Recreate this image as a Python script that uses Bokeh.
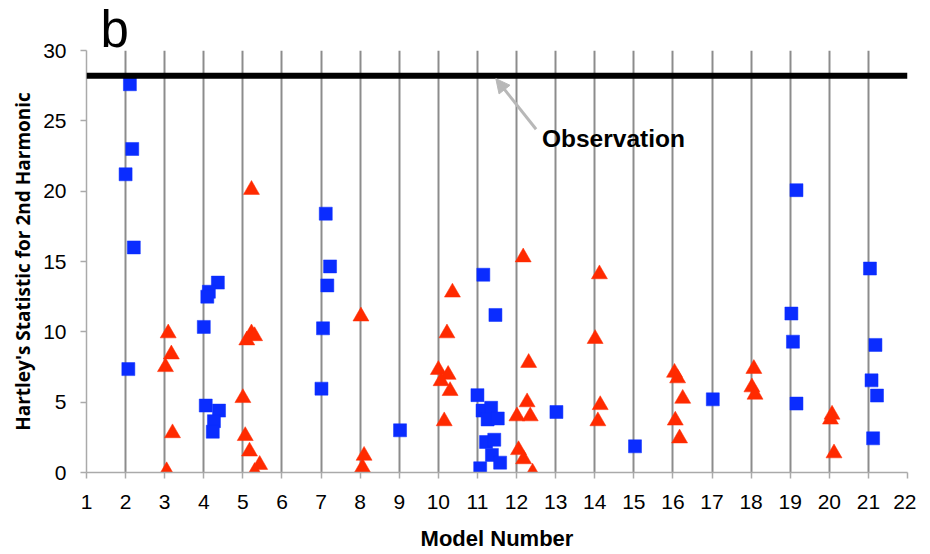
from bokeh.plotting import figure
from bokeh.models import FixedTicker, Label, Arrow, NormalHead, Span, Title
from bokeh.embed import file_html
from bokeh.resources import INLINE

# ---- data ----
model_ticks = list(range(1, 23))
y_ticks = [0, 5, 10, 15, 20, 25, 30]
observation = 28.2

blue_x = [2.11, 2.17, 2.00, 2.21, 2.07,
          4.36, 4.13, 4.09, 4.00, 4.05, 4.39, 4.26, 4.23,
          7.12, 7.23, 7.16, 7.05, 7.01,
          9.02,
          11.15, 11.46, 11.00, 11.13, 11.35, 11.26, 11.52, 11.22, 11.43, 11.37, 11.58, 11.07,
          13.02,
          15.03,
          17.02,
          19.16, 19.03, 19.07, 19.16,
          21.04, 21.18, 21.08, 21.22, 21.12]
blue_y = [27.6, 23.0, 21.2, 16.0, 7.35,
          13.5, 12.85, 12.5, 10.35, 4.76, 4.4, 3.65, 2.9,
          18.4, 14.65, 13.3, 10.25, 5.96,
          3.0,
          14.06, 11.2, 5.5, 4.4, 4.6, 3.77, 3.84, 2.17, 2.33, 1.25, 0.7, 0.3,
          4.3,
          1.86,
          5.2,
          20.07, 11.3, 9.3, 4.9,
          14.5, 9.07, 6.55, 5.47, 2.43]

red_x = [3.09, 3.17, 3.02, 3.20, 3.05,
         5.22, 5.22, 5.30, 5.10, 5.00, 5.06, 5.17, 5.43, 5.30,
         8.02, 8.10, 8.06,
         10.36, 10.22, 10.00, 10.25, 10.07, 10.30, 10.15,
         12.17, 12.31, 12.27, 12.01, 12.35, 12.05, 12.18, 12.41,
         14.12, 14.01, 14.14, 14.08,
         16.04, 16.12, 16.25, 16.06, 16.17,
         18.07, 18.02, 18.10,
         20.07, 20.03, 20.12]
red_y = [9.9, 8.4, 7.5, 2.8, 0.1,
         20.1, 9.9, 9.7, 9.4, 5.3, 2.6, 1.5, 0.55, 0.05,
         11.1, 1.2, 0.35,
         12.8, 9.9, 7.3, 6.95, 6.5, 5.8, 3.65,
         15.3, 7.8, 5.0, 4.0, 4.0, 1.6, 0.95, 0.0,
         14.1, 9.5, 4.8, 3.65,
         7.1, 6.7, 5.25, 3.7, 2.43,
         7.37, 6.06, 5.54,
         4.12, 3.77, 1.37]

# annotation anchors (data units)
arrow_start = (12.5, 24.4)
arrow_end = (11.47, 28.0)
obs_label_pos = (12.65, 23.75)

p = figure(width=916, height=553, x_range=(1, 22), y_range=(0, 30),
           output_backend="svg", toolbar_location=None,
           min_border_left=86, min_border_right=9,
           min_border_top=50, min_border_bottom=80)
p.outline_line_color = None
p.background_fill_color = "white"

# panel letter as the title
p.title = Title(text="b", align="left", offset=14, standoff=-14,
                text_font="Liberation Sans", text_font_style="normal",
                text_font_size="51px", text_color="black")

# grid
p.ygrid.visible = False
p.xgrid.ticker = FixedTicker(ticks=model_ticks)
p.xgrid.grid_line_color = "#8c8c8c"
p.xgrid.grid_line_width = 2

# axes
for ax in (p.xaxis[0], p.yaxis[0]):
    ax.axis_line_color = "#aaaaaa"
    ax.axis_line_width = 1.5
    ax.major_tick_line_color = "#aaaaaa"
    ax.major_tick_line_width = 1.5
    ax.major_tick_in = 0
    ax.major_tick_out = 6
    ax.minor_tick_line_color = None
    ax.major_label_text_font = "Liberation Sans"
    ax.major_label_text_font_size = "21px"
    ax.major_label_text_color = "black"
    ax.axis_label_text_color = "black"
    ax.axis_label_text_font_style = "bold"

p.xaxis.ticker = FixedTicker(ticks=model_ticks)
p.yaxis.ticker = FixedTicker(ticks=y_ticks)
p.xaxis.major_label_standoff = 16
p.yaxis.major_label_standoff = 14

p.xaxis.axis_label = "Model Number"
p.xaxis.axis_label_text_font = "Liberation Sans"
p.xaxis.axis_label_text_font_size = "22px"
p.xaxis.axis_label_standoff = 14

p.yaxis.axis_label = "Hartley's Statistic for 2nd Harmonic"
p.yaxis.axis_label_text_font = "Open Sans"
p.yaxis.axis_label_text_font_size = "19px"
p.yaxis.axis_label_standoff = 4

# markers
p.scatter(red_x, red_y, marker="triangle", size=16,
          fill_color="#ff2a00", line_color="#ff2a00", line_width=0.5)
p.scatter(blue_x, blue_y, marker="square", size=13,
          fill_color="#0a2cff", line_color="#0a2cff", line_width=0.5)

# observation line
p.add_layout(Span(location=observation, dimension="width",
                  line_color="black", line_width=6))

# arrow + label
p.add_layout(Arrow(end=NormalHead(size=14, fill_color="#b8b8b8", line_color="#b8b8b8"),
                   x_start=arrow_start[0], y_start=arrow_start[1],
                   x_end=arrow_end[0], y_end=arrow_end[1],
                   line_color="#b8b8b8", line_width=3))
p.add_layout(Label(x=obs_label_pos[0], y=obs_label_pos[1], text="Observation",
                   text_font="Liberation Sans", text_font_style="bold",
                   text_font_size="24.5px", text_baseline="middle", text_color="black"))

open("out.html", "w").write(file_html(p, INLINE))
